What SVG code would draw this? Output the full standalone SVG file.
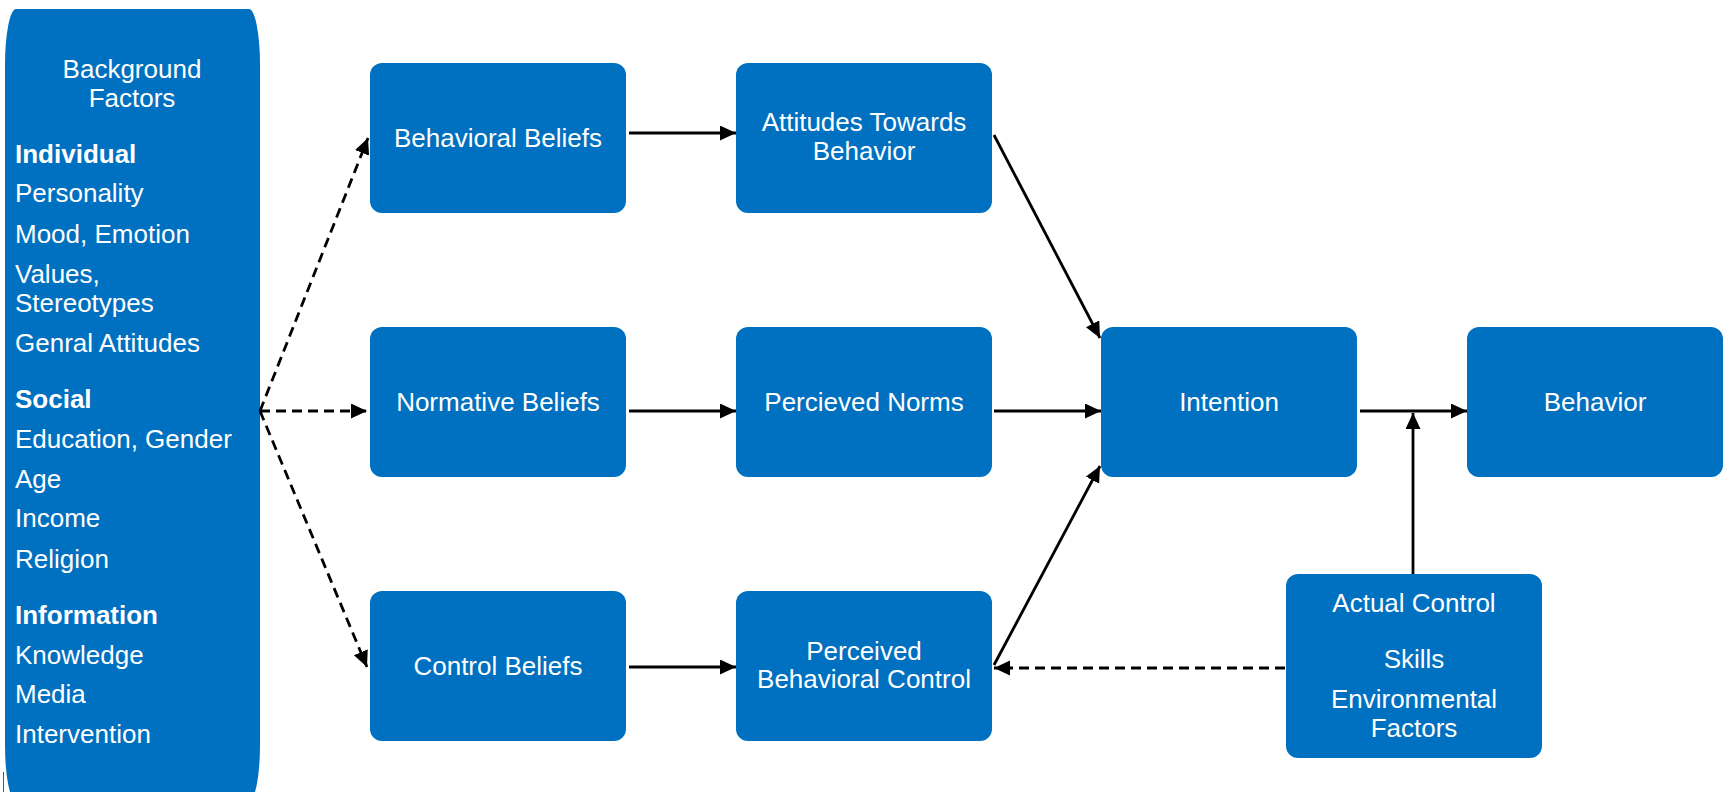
<svg xmlns="http://www.w3.org/2000/svg" width="1727" height="792" viewBox="0 0 1727 792">
<style>
.box{fill:#0070C0}
.t{font-family:"Liberation Sans",Arial,sans-serif;font-size:26px;fill:#fff}
.c{text-anchor:middle}
.b{font-weight:bold}
.ln{stroke:#000;stroke-width:2.8;fill:none}
.d{stroke-dasharray:10 6}
</style>
<defs>
<marker id="ah" markerUnits="userSpaceOnUse" markerWidth="17" markerHeight="16" refX="16" refY="7.5" orient="auto">
<path d="M0,0 L16,7.5 L0,15 Z" fill="#000"/>
</marker>
</defs>
<rect width="1727" height="792" fill="#fff"/>
<g id="background">
<path class="box" d="M5,65 A11,56 0 0 1 16,9 L249,9 A11,56 0 0 1 260,65 L260,745 A11,56 0 0 1 249,801 L16,801 A11,56 0 0 1 5,745 Z"/>
<line x1="3.5" y1="772" x2="3.5" y2="792" stroke="#555" stroke-width="1"/>
<text class="t c" x="132" y="78">Background</text>
<text class="t c" x="132" y="107">Factors</text>
<text class="t b" x="15" y="163">Individual</text>
<text class="t" x="15" y="202">Personality</text>
<text class="t" x="15" y="243">Mood, Emotion</text>
<text class="t" x="15" y="283">Values,</text>
<text class="t" x="15" y="312">Stereotypes</text>
<text class="t" x="15" y="352">Genral Attitudes</text>
<text class="t b" x="15" y="408">Social</text>
<text class="t" x="15" y="448">Education, Gender</text>
<text class="t" x="15" y="488">Age</text>
<text class="t" x="15" y="527">Income</text>
<text class="t" x="15" y="568">Religion</text>
<text class="t b" x="15" y="624">Information</text>
<text class="t" x="15" y="664">Knowledge</text>
<text class="t" x="15" y="703">Media</text>
<text class="t" x="15" y="743">Intervention</text>
</g>
<g id="behavioral-beliefs">
<rect class="box" x="370" y="63" width="256" height="150" rx="12"/>
<text class="t c" x="498" y="147">Behavioral Beliefs</text>
</g>
<g id="attitudes">
<rect class="box" x="736" y="63" width="256" height="150" rx="12"/>
<text class="t c" x="864" y="131">Attitudes Towards</text>
<text class="t c" x="864" y="160">Behavior</text>
</g>
<g id="normative-beliefs">
<rect class="box" x="370" y="327" width="256" height="150" rx="12"/>
<text class="t c" x="498" y="411">Normative Beliefs</text>
</g>
<g id="perceived-norms">
<rect class="box" x="736" y="327" width="256" height="150" rx="12"/>
<text class="t c" x="864" y="411">Percieved Norms</text>
</g>
<g id="control-beliefs">
<rect class="box" x="370" y="591" width="256" height="150" rx="12"/>
<text class="t c" x="498" y="675">Control Beliefs</text>
</g>
<g id="pbc">
<rect class="box" x="736" y="591" width="256" height="150" rx="12"/>
<text class="t c" x="864" y="660">Perceived</text>
<text class="t c" x="864" y="688">Behavioral Control</text>
</g>
<g id="intention">
<rect class="box" x="1101" y="327" width="256" height="150" rx="12"/>
<text class="t c" x="1229" y="411">Intention</text>
</g>
<g id="behavior">
<rect class="box" x="1467" y="327" width="256" height="150" rx="12"/>
<text class="t c" x="1595" y="411">Behavior</text>
</g>
<g id="actual-control">
<rect class="box" x="1286" y="574" width="256" height="184" rx="12"/>
<text class="t c" x="1414" y="612">Actual Control</text>
<text class="t c" x="1414" y="668">Skills</text>
<text class="t c" x="1414" y="708">Environmental</text>
<text class="t c" x="1414" y="737">Factors</text>
</g>
<g id="connectors">
<line class="ln" x1="629" y1="133" x2="736" y2="133" marker-end="url(#ah)"/>
<line class="ln" x1="629" y1="411" x2="736" y2="411" marker-end="url(#ah)"/>
<line class="ln" x1="629" y1="667" x2="736" y2="667" marker-end="url(#ah)"/>
<line class="ln" x1="994" y1="135" x2="1100" y2="338" marker-end="url(#ah)"/>
<line class="ln" x1="994" y1="411" x2="1101" y2="411" marker-end="url(#ah)"/>
<line class="ln" x1="994" y1="665" x2="1100" y2="466" marker-end="url(#ah)"/>
<line class="ln" x1="1360" y1="411" x2="1467" y2="411" marker-end="url(#ah)"/>
<line class="ln" x1="1413" y1="574" x2="1413" y2="413" marker-end="url(#ah)"/>
<line class="ln d" x1="1285" y1="668" x2="994" y2="668" marker-end="url(#ah)"/>
<line class="ln d" x1="260" y1="411" x2="368" y2="138" marker-end="url(#ah)"/>
<line class="ln d" x1="260" y1="411" x2="367" y2="411" marker-end="url(#ah)"/>
<line class="ln d" x1="260" y1="411" x2="367" y2="667" marker-end="url(#ah)"/>
</g>
</svg>
